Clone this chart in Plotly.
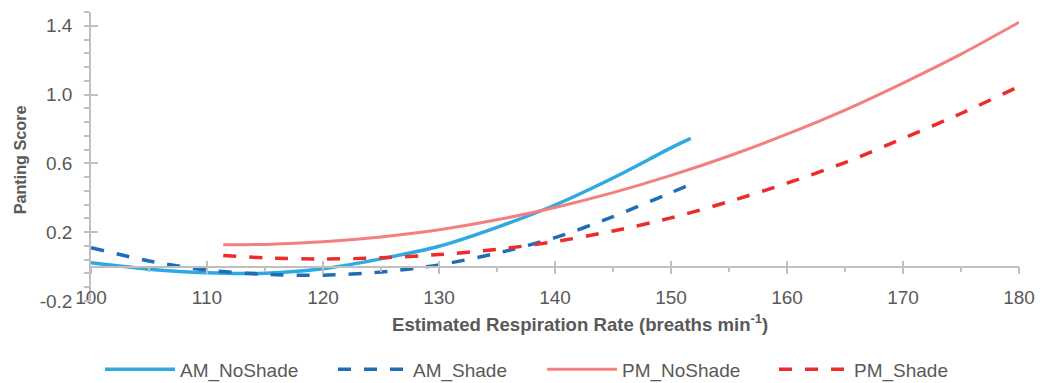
import plotly.graph_objects as go

# Respiration rate (breaths/min) on x, panting score on y
am_noshade_x = [100, 105, 110, 115, 120, 125, 130, 135, 140, 145, 150, 151.7]
am_noshade_y = [0.022, -0.015, -0.036, -0.038, -0.012, 0.045, 0.118, 0.228, 0.358, 0.515, 0.69, 0.745]

am_shade_x = [100, 105, 110, 115, 120, 125, 130, 135, 140, 145, 150, 151.6]
am_shade_y = [0.11, 0.033, -0.02, -0.045, -0.05, -0.032, 0.01, 0.078, 0.168, 0.29, 0.43, 0.475]

pm_noshade_x = [111.4, 115, 120, 125, 130, 135, 140, 145, 150, 155, 160, 165, 170, 175, 180]
pm_noshade_y = [0.127, 0.129, 0.144, 0.172, 0.214, 0.272, 0.344, 0.43, 0.53, 0.643, 0.77, 0.91, 1.067, 1.235, 1.42]

pm_shade_x = [111.4, 115, 120, 125, 130, 135, 140, 145, 150, 155, 160, 165, 170, 175, 180]
pm_shade_y = [0.065, 0.051, 0.044, 0.051, 0.07, 0.1, 0.145, 0.207, 0.283, 0.378, 0.485, 0.605, 0.745, 0.89, 1.047]

x_ticks = [100, 110, 120, 130, 140, 150, 160, 170, 180]
y_ticks = [-0.2, 0.2, 0.6, 1.0, 1.4]
y_labels = ["-0.2", "0.2", "0.6", "1.0", "1.4"]

x_title = "<b>Estimated Respiration Rate (breaths min<sup>-1</sup>)</b>"
y_title = "<b>Panting Score</b>"

FONT = "Liberation Sans"
TXT = "#595959"
AXC = "#BFBFBF"

X_RANGE = [100, 180]
Y_RANGE = [-0.2, 1.48]

series = [
    ("AM_NoShade", am_noshade_x, am_noshade_y, "#2EA9E1", "solid", 3.5, "legend"),
    ("AM_Shade", am_shade_x, am_shade_y, "#1F6DB6", "13px,13px", 3.5, "legend2"),
    ("PM_NoShade", pm_noshade_x, pm_noshade_y, "#F47F7F", "solid", 3, "legend3"),
    ("PM_Shade", pm_shade_x, pm_shade_y, "#EE2B2B", "13px,13px", 3.5, "legend4"),
]

fig = go.Figure()
for name, xs, ys, color, dash, width, lg in series:
    fig.add_trace(go.Scatter(
        x=xs, y=ys, name=name, mode="lines",
        line=dict(color=color, dash=dash, width=width, shape="spline", smoothing=0.8),
        legend=lg,
    ))

# position of y = 0 in paper units, where the crossing x axis sits
zero_pos = (0 - Y_RANGE[0]) / (Y_RANGE[1] - Y_RANGE[0])

tick_font = dict(family=FONT, size=19, color=TXT)

fig.update_layout(
    width=1040, height=383,
    margin=dict(l=91, r=21, t=12, b=82, autoexpand=False),
    paper_bgcolor="white", plot_bgcolor="white",
    font=dict(family=FONT, size=19, color=TXT),
    # label axis near the bottom of the plot area
    xaxis=dict(
        range=X_RANGE, tickvals=x_ticks, ticktext=[str(v) for v in x_ticks],
        anchor="free", position=0.058, showline=False, ticks="",
        showgrid=False, zeroline=False, tickfont=tick_font, automargin=False,
    ),
    # axis line at y = 0 with outside ticks
    xaxis2=dict(
        range=X_RANGE, overlaying="x", anchor="free", position=zero_pos,
        tickvals=x_ticks, showticklabels=False, ticks="outside", ticklen=7,
        tickwidth=1.5, tickcolor=AXC, showline=True, linecolor=AXC, linewidth=1.5,
        showgrid=False, zeroline=False, automargin=False,
        minor=dict(dtick=5, tick0=100, ticks="outside", ticklen=5, tickwidth=1.5,
                   tickcolor=AXC, showgrid=False),
    ),
    # upward half of the crossing major ticks
    xaxis3=dict(
        range=X_RANGE, overlaying="x", anchor="free", position=zero_pos,
        tickvals=x_ticks, showticklabels=False, ticks="inside", ticklen=6,
        tickwidth=1.5, tickcolor=AXC, showline=False, showgrid=False, zeroline=False,
        automargin=False,
    ),
    yaxis=dict(
        range=Y_RANGE, tickvals=y_ticks, ticktext=y_labels,
        ticks="outside", ticklen=5, tickwidth=1.5, tickcolor=AXC,
        showline=True, linecolor=AXC, linewidth=1.5,
        showgrid=False, zeroline=False, tickfont=tick_font,
        ticklabelstandoff=8, automargin=False,
        minor=dict(dtick=0.08, tick0=-0.2, ticks="outside", ticklen=5, tickwidth=1.5,
                   tickcolor=AXC, showgrid=False),
    ),
    yaxis2=dict(
        range=Y_RANGE, overlaying="y", anchor="x", side="left",
        tickvals=y_ticks, showticklabels=False, ticks="inside", ticklen=7,
        tickwidth=1.5, tickcolor=AXC, showline=False, showgrid=False, zeroline=False,
        automargin=False,
    ),
)

# axis titles
fig.add_annotation(text=x_title, xref="paper", yref="paper", x=0.527, y=-0.0746,
                   xanchor="center", yanchor="middle", showarrow=False,
                   font=dict(family=FONT, size=18.6, color=TXT))
fig.add_annotation(text=y_title, xref="paper", yref="paper", x=-0.077, y=0.4886,
                   xanchor="center", yanchor="middle", textangle=-90, showarrow=False,
                   font=dict(family=FONT, size=16.2, color=TXT))

# one legend per series so each entry sits at its own spot along the bottom
legend_common = dict(orientation="h", yanchor="middle", y=-0.237, xanchor="left",
                     itemwidth=70, bgcolor="rgba(0,0,0,0)",
                     font=dict(family=FONT, size=19, color=TXT), itemclick=False)
legend_px = [100, 333, 542, 774]
for key, px in zip(["legend", "legend2", "legend3", "legend4"], legend_px):
    fig.update_layout({key: dict(legend_common, x=(px - 91) / 928)})

# hidden traces that bind the extra axes so they get drawn
fig.add_trace(go.Scatter(x=[None], y=[None], xaxis="x2", yaxis="y", showlegend=False, hoverinfo="skip"))
fig.add_trace(go.Scatter(x=[None], y=[None], xaxis="x3", yaxis="y", showlegend=False, hoverinfo="skip"))
fig.add_trace(go.Scatter(x=[None], y=[None], xaxis="x", yaxis="y2", showlegend=False, hoverinfo="skip"))

fig.write_html("out.html")
